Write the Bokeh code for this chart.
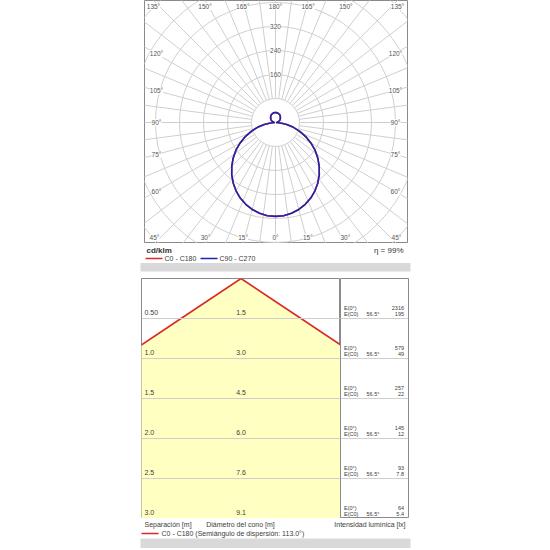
import math
from bokeh.plotting import figure
from bokeh.layouts import column, row
from bokeh.models import Range1d, Label, Span
from bokeh.core.properties import value
from bokeh.embed import file_html
from bokeh.resources import INLINE

# ---------------- data ----------------
gamma = [0, 5, 10, 15, 20, 25, 30, 35, 40, 45, 50, 55, 60, 65, 70, 75, 80, 85, 90,
         95, 100, 105, 110, 115, 120, 125, 130, 135, 140, 145, 150, 155, 160, 165, 170, 175, 180]
i_c0_c180 = [313, 312, 307, 300, 290, 278, 263, 246, 227, 206, 184, 161, 136, 111, 86, 62, 38, 17, 2,
             3, 6, 9, 11, 14, 17, 19, 21, 23, 25, 27, 29, 30, 31, 32, 33, 33, 33]
i_c90_c270 = [313, 312, 307, 300, 290, 278, 263, 246, 227, 206, 184, 161, 136, 111, 86, 62, 38, 17, 2,
              3, 6, 9, 11, 14, 17, 19, 21, 23, 25, 27, 29, 30, 31, 32, 33, 33, 33]
ring_values = [80, 160, 240, 320, 400, 480, 560]
ring_labels = [160, 240, 320]
angle_ticks = [0, 15, 30, 45, 60, 75, 90, 105, 120, 135, 150, 165, 180]
unit_label = "cd/klm"
eta_label = "η = 99%"
series_names = ["C0 - C180", "C90 - C270"]

distance = [0.5, 1.0, 1.5, 2.0, 2.5, 3.0]
distance_labels = ["0.50", "1.0", "1.5", "2.0", "2.5", "3.0"]
diameter = [1.5, 3.0, 4.5, 6.0, 7.6, 9.1]
diameter_labels = ["1.5", "3.0", "4.5", "6.0", "7.6", "9.1"]
e_center = ["2316", "579", "257", "145", "93", "64"]
e_c0 = ["195", "49", "22", "12", "7.8", "5.4"]
half_angle_label = "56.5°"
cone_legend = "C0 - C180 (Semiángulo de dispersión: 113.0°)"

# ---------------- styling ----------------
FONTNAME = "Liberation Sans"
FONT = value(FONTNAME)
TXT = "#3c3c3c"
GRID = "#cfcfcf"
RED = "#d82a2a"
BLUE = "#2222b0"
YELLOW = "#ffffc2"
GREYBAR = "#d9d9d9"
BOX = "#8a8a8a"
W = 548


def fs(px):
    return f"{px:.2f}px"


def make_fig(w, h, xr, yr, left=0, right=0, top=0, bottom=0):
    p = figure(width=w, height=h, x_range=xr, y_range=yr, toolbar_location=None,
               output_backend="svg", x_axis_location=None, y_axis_location=None,
               min_border_left=left, min_border_right=right,
               min_border_top=top, min_border_bottom=bottom)
    p.grid.visible = False
    p.outline_line_color = None
    p.background_fill_color = "white"
    p.border_fill_color = "white"
    return p


# ---------------- polar chart ----------------
K = 0.3  # px per cd/klm
X0, X1 = -131 / K, 132 / K
Y0, Y1 = -121 / K, 122 / K
pp = make_fig(W, 243, Range1d(X0, X1), Range1d(Y0, Y1), left=144, right=W - 144 - 263)
pp.outline_line_color = BOX

rx, ry = [], []
for k in range(48):
    t = math.radians(k * 7.5)
    rx.append([ring_values[0] * math.sin(t), 900 * math.sin(t)])
    ry.append([-ring_values[0] * math.cos(t), -900 * math.cos(t)])
pp.multi_line(rx, ry, line_color=GRID, line_width=1)
pp.circle(x=[0] * len(ring_values), y=[0] * len(ring_values), radius=ring_values,
          fill_color=None, line_color=GRID, line_width=1)


def curve(vals):
    xs = [v * math.sin(math.radians(g)) for g, v in zip(gamma, vals)]
    ys = [-v * math.cos(math.radians(g)) for g, v in zip(gamma, vals)]
    xs = xs + [-x for x in xs[::-1]]
    ys = ys + ys[::-1]
    return xs, ys


cx, cy = curve(i_c0_c180)
pp.line(cx, cy, line_color=RED, line_width=1.6)
cx, cy = curve(i_c90_c270)
pp.line(cx, cy, line_color=BLUE, line_width=1.6)

for v in ring_labels:
    pp.add_layout(Label(x=0, y=v, text=str(v), text_align="center", text_baseline="middle",
                        text_font=FONTNAME, text_font_size=fs(6.5), text_color="#555555",
                        background_fill_color="white"))

lx, ly, lt = [], [], []
for g in angle_ticks:
    sides = [1] if g in (0, 180) else [-1, 1]
    for sd in sides:
        t = math.radians(g)
        dx, dy = sd * math.sin(t), -math.cos(t)
        th = (Y0 / dy if dy < -1e-9 else (Y1 / dy if dy > 1e-9 else 1e9))
        tv = (X1 / dx if dx > 1e-9 else (X0 / dx if dx < -1e-9 else 1e9))
        if th <= tv:
            x = th * dx
            y = (Y1 - 6 / K) if dy > 0 else (Y0 + 6 / K)
        else:
            x = (X1 - 12 / K) if dx > 0 else (X0 + 12 / K)
            y = dy * abs(x) / abs(dx)
        lx.append(x)
        ly.append(y)
        lt.append(f"{g}°")
pp.text(lx, ly, text=lt, text_align="center", text_baseline="middle", text_font=FONT,
        text_font_size=fs(6.5), text_color="#555555", background_fill_color="white")

# ---------------- legend strip ----------------
pl = make_fig(W, 35, Range1d(0, W), Range1d(278, 243))
pl.text([146], [250], text=[unit_label], text_baseline="middle", text_font=FONT,
        text_font_size=fs(8), text_font_style="bold", text_color="#333333")
pl.text([403], [250], text=[eta_label], text_align="right", text_baseline="middle",
        text_font=FONT, text_font_size=fs(8), text_color="#333333")
pl.line([145, 162], [258, 258], line_color=RED, line_width=1.6)
pl.line([200, 217], [258, 258], line_color=BLUE, line_width=1.6)
pl.text([164, 219], [258, 258], text=series_names, text_baseline="middle", text_font=FONT,
        text_font_size=fs(7), text_color=TXT)
pl.quad(left=[140], right=[410], top=[262.5], bottom=[271], fill_color=GREYBAR, line_color=None)

# ---------------- cone diagram ----------------
M = 80.0  # px per metre
half = (340 - 240.5) / M
pc = make_fig(340, 240, Range1d(-half, half), Range1d(3.0, 0.0), left=141)
pc.outline_line_color = BOX
px = [0.0] + [d / 2 for d in diameter] + [-d / 2 for d in diameter[::-1]]
py = [0.0] + distance + distance[::-1]
pc.patch(px, py, fill_color=YELLOW, line_color=None)
for d in distance[:-1]:
    pc.add_layout(Span(location=d, dimension="width", line_color=GRID, line_width=1))
ex = [-d / 2 for d in diameter[::-1]] + [0.0] + [d / 2 for d in diameter]
ey = distance[::-1] + [0.0] + distance
pc.line(ex, ey, line_color=RED, line_width=1.6)
pc.text([-half + 3 / M] * len(distance), [d - 6 / M for d in distance], text=distance_labels,
        text_baseline="middle", text_font=FONT, text_font_size=fs(7), text_color=TXT)
pc.text([0.0] * len(distance), [d - 6 / M for d in distance], text=diameter_labels,
        text_align="center", text_baseline="middle", text_font=FONT, text_font_size=fs(7),
        text_color=TXT)

pt = make_fig(W - 340, 240, Range1d(0, 68), Range1d(3.0, 0.0), right=W - 408)
pt.outline_line_color = BOX
for d in distance[:-1]:
    pt.add_layout(Span(location=d, dimension="width", line_color=GRID, line_width=1))
n = len(distance)
tsz = fs(5.5)
pt.text([3.5] * n, [d - 10.5 / M for d in distance], text=["E(0°)"] * n, text_baseline="middle",
        text_font=FONT, text_font_size=tsz, text_color=TXT)
pt.text([3.5] * n, [d - 5 / M for d in distance], text=["E(C0)"] * n, text_baseline="middle",
        text_font=FONT, text_font_size=tsz, text_color=TXT)
pt.text([26] * n, [d - 5 / M for d in distance], text=[half_angle_label] * n,
        text_baseline="middle", text_font=FONT, text_font_size=tsz, text_color=TXT)
pt.text([63.5] * n, [d - 10.5 / M for d in distance], text=e_center, text_align="right",
        text_baseline="middle", text_font=FONT, text_font_size=tsz, text_color=TXT)
pt.text([63.5] * n, [d - 5 / M for d in distance], text=e_c0, text_align="right",
        text_baseline="middle", text_font=FONT, text_font_size=tsz, text_color=TXT)

# ---------------- bottom strip ----------------
pb = make_fig(W, 30, Range1d(0, W), Range1d(548, 518))
pb.text([144], [523.5], text=["Separación [m]"], text_baseline="middle", text_font=FONT,
        text_font_size=fs(7), text_color=TXT)
pb.text([240], [523.5], text=["Diámetro del cono [m]"], text_align="center",
        text_baseline="middle", text_font=FONT, text_font_size=fs(7), text_color=TXT)
pb.text([405], [523.5], text=["Intensidad lumínica [lx]"], text_align="right",
        text_baseline="middle", text_font=FONT, text_font_size=fs(7), text_color=TXT)
pb.line([141, 158], [533, 533], line_color=RED, line_width=1.6)
pb.text([161], [533], text=[cone_legend], text_baseline="middle", text_font=FONT,
        text_font_size=fs(7), text_color=TXT)
pb.quad(left=[140], right=[410], top=[538], bottom=[548], fill_color=GREYBAR, line_color=None)

layout = column(row(pp), row(pl), row(pc, pt), row(pb))
open("out.html", "w").write(file_html(layout, INLINE))
